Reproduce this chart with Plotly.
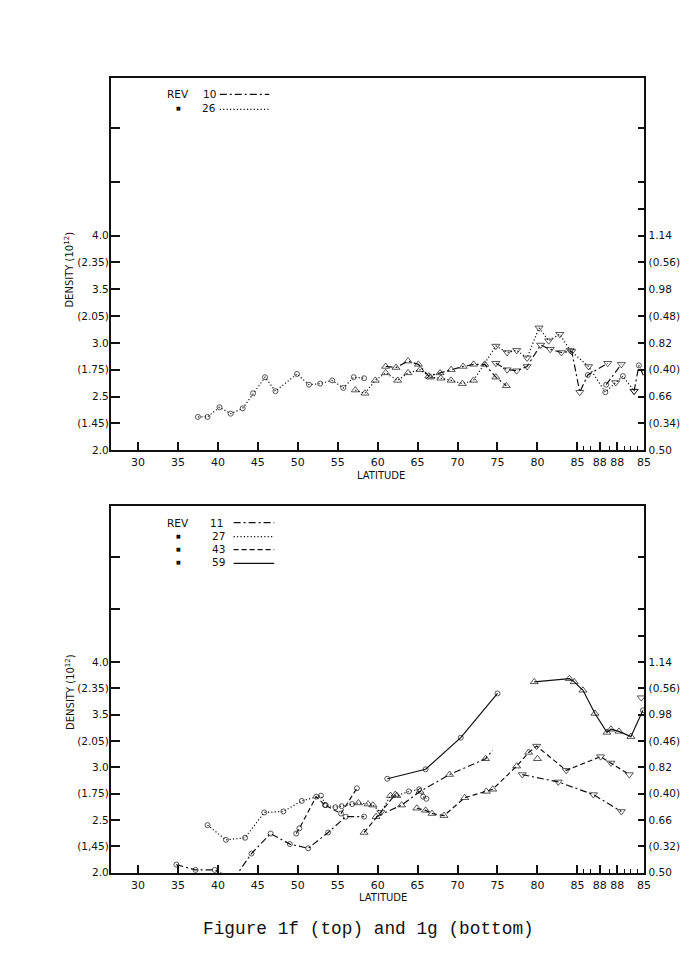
import plotly.graph_objects as go

W, H = 699, 962

# ---------------- DATA : Figure 1f (top) ----------------
# marker codes: o = open circle, u = triangle up, d = triangle down, . = no marker, None = gap
r26_lat = [37.5, 38.7, 40.2, 41.6, 43.1, 44.4, 45.9, 47.2, 49.9, 51.4, 52.8, 54.3, 55.7, 57.0, 58.3, None,
           57.2, 58.4, 59.7, 61.0, 62.5, 63.8, 65.3, 66.6, 67.9, 69.2, 70.6, 72.0,
           74.8, 76.2, 77.4, 78.7, 80.2, 81.4, 82.8, 84.1, 86.4, 88.5, 89.8, 90.7, 92.1]
r26_val = [2.31, 2.31, 2.40, 2.34, 2.39, 2.53, 2.68, 2.55, 2.71, 2.61, 2.62, 2.65, 2.58, 2.68, 2.67, None,
           2.56, 2.53, 2.65, 2.72, 2.65, 2.72, 2.75, 2.68, 2.67, 2.65, 2.62, 2.65,
           2.97, 2.91, 2.93, 2.86, 3.14, 3.02, 3.08, 2.93, 2.78, 2.54, 2.63, 2.69, 2.55]
r26_mk = list("ooooooooooooooo") + [None] + list("uuuuuuuuuuuu") + list("ddddddddd") + list("odod")

r10_lat = [61.0, 62.3, 63.8, 65.1, 66.4, 67.8, 69.2, 70.7, 72.0, 73.4, 74.8, 76.1, None,
           74.8, 76.2, 77.4, 78.7, 80.4, 81.6, 83.0, 84.3, 85.3, 86.3, 88.8, None,
           88.6, 90.5, None,
           92.1, 92.7, 93.3]
r10_val = [2.78, 2.77, 2.83, 2.80, 2.69, 2.72, 2.75, 2.78, 2.80, 2.80, 2.68, 2.60, None,
           2.81, 2.75, 2.74, 2.78, 2.98, 2.94, 2.91, 2.92, 2.54, 2.70, 2.81, None,
           2.61, 2.80, None,
           2.55, 2.79, 2.69]
r10_mk = list("uuuuuuuuuuuu") + [None] + list("dddddddddod") + [None] + list("od") + [None] + list("do.")

# ---------------- DATA : Figure 1g (bottom) ----------------
r11_lat = [34.8, 37.2, 39.6, 42.0, 44.2, 46.6, 49.0, 51.3, 53.8, 56.0, 58.3, None,
           59.8, 63.0, 65.3, 69.0, 73.5, 74.4, None,
           78.1, 82.6, 87.0, 90.5]
r11_val = [2.075, 2.025, 2.025, 1.94, 2.18, 2.37, 2.27, 2.23, 2.38, 2.53, 2.53, None,
           2.53, 2.64, 2.77, 2.93, 3.08, 3.16, None,
           2.93, 2.86, 2.74, 2.58]
r11_mk = list("ooooooooooo") + [None] + list("uuuuu.") + [None] + list("dddd")

r27_lat = [38.7, 41.0, 43.4, 45.8, 48.2, 50.5, 52.9, 53.5, 54.7, 55.5, 56.8,
           57.6, 58.8, 59.4, 60.4, 61.6, 62.4, 63.9, 65.2, 65.7, 66.1]
r27_val = [2.45, 2.31, 2.33, 2.57, 2.58, 2.68, 2.73, 2.64, 2.62, 2.63, 2.65,
           2.66, 2.65, 2.64, 2.57, 2.73, 2.73, 2.77, 2.79, 2.72, 2.70]
r27_mk = list("ooooooooooo") + list("uuuduuoooo")

r43_lat = [49.8, 50.2, 52.3, 53.4, 55.4, 57.4, None,
           58.3, 62.2, None,
           64.9, 66.0, 66.8, 68.3, 70.9, 73.6, 74.4, 77.4, 78.9, 79.9, 83.6, 87.9, 89.2, 91.5, None,
           80.0]
r43_val = [2.37, 2.42, 2.72, 2.64, 2.56, 2.80, None,
           2.38, 2.74, None,
           2.61, 2.59, 2.56, 2.54, 2.71, 2.77, 2.79, 3.01, 3.14, 3.20, 2.97, 3.10, 3.04, 2.93, None,
           3.08]
r43_mk = list("oooooo") + [None] + list("uu") + [None] + list("uuuuuuuuuddddd") + [None] + list("u")

r59_lat = [61.2, 66.0, 70.4, 75.0, None,
           79.6, 84.0, 84.6, 85.7, 87.2, 88.7, 89.2, 90.2, 91.7, 93.2, None,
           93.0]
r59_val = [2.89, 2.98, 3.28, 3.70, None,
           3.81, 3.84, 3.81, 3.73, 3.51, 3.33, 3.36, 3.34, 3.29, 3.54, None,
           3.66]
r59_mk = list("oooo") + [None] + list("uuuuuuuuuo") + [None] + list("d")

# ---------------- AXIS TEXT ----------------
x_major = [30, 35, 40, 45, 50, 55, 60, 65, 70, 75, 80, 85, 87.8, 90.0, 93.35]
x_major_text = ["30", "35", "40", "45", "50", "55", "60", "65", "70", "75", "80", "85", "88", "88", "85"]
x_minor = [85.8, 86.6, 89.0, 90.9, 91.7, 92.5]

y_ticks = [2.0, 2.25, 2.5, 2.75, 3.0, 3.25, 3.5, 3.75, 4.0, 4.5, 5.0]
y_left_top = ["2.0", "(1.45)", "2.5", "(1.75)", "3.0", "(2.05)", "3.5", "(2.35)", "4.0", "", ""]
y_left_bot = ["2.0", "(1,45)", "2.5", "(1.75)", "3.0", "(2.05)", "3.5", "(2.35)", "4.0", "", ""]
y_right_ticks = [2.0, 2.25, 2.5, 2.75, 3.0, 3.25, 3.5, 3.75, 4.0, 4.25, 4.5, 5.0]
y_right_top = ["0.50", "(0.34)", "0.66", "(0.40)", "0.82", "(0.48)", "0.98", "(0.56)", "1.14", "", "", ""]
y_right_bot = ["0.50", "(0.32)", "0.66", "(0.40)", "0.82", "(0.46)", "0.98", "(0.56)", "1.14", "", "", ""]

# ---------------- FIGURE ----------------
FONT = "DejaVu Sans"
SYM = {"o": "circle-open", "u": "triangle-up-open", "d": "triangle-down-open", ".": "circle"}
SIZE = {"o": 5, "u": 7, "d": 7, ".": 0}
DASH = {"dashdot": "7px,3px,2px,3px", "dot": "1.2px,2.2px", "dash": "5px,3px", "solid": "solid"}

fig = go.Figure()


def add_series(lat, val, mk, dash, xa, ya):
    syms = [SYM[m] if m else "circle" for m in mk]
    sizes = [SIZE[m] if m else 0 for m in mk]
    fig.add_trace(go.Scatter(
        x=lat, y=val, xaxis=xa, yaxis=ya, mode="lines+markers",
        line=dict(color="#111", width=1.2, dash=DASH[dash]),
        marker=dict(symbol=syms, size=sizes, color="#111", line=dict(width=1.0, color="#111")),
        cliponaxis=False, showlegend=False, hoverinfo="skip"))


add_series(r26_lat, r26_val, r26_mk, "dot", "x", "y")
add_series(r10_lat, r10_val, r10_mk, "dashdot", "x", "y")
add_series(r27_lat, r27_val, r27_mk, "dot", "x2", "y3")
add_series(r43_lat, r43_val, r43_mk, "dash", "x2", "y3")
add_series(r11_lat, r11_val, r11_mk, "dashdot", "x2", "y3")
add_series(r59_lat, r59_val, r59_mk, "solid", "x2", "y3")

# empty traces so the right-hand (second scale) axes get drawn
fig.add_trace(go.Scatter(x=[None], y=[None], xaxis="x", yaxis="y2", showlegend=False, hoverinfo="skip"))
fig.add_trace(go.Scatter(x=[None], y=[None], xaxis="x2", yaxis="y4", showlegend=False, hoverinfo="skip"))


def px(x):
    return x / W


def py(y):
    return 1 - y / H


XL, XR = 112, 651
TOP = (78, 453)
BOT = (509, 878)
tickfont = dict(family=FONT, size=11, color="#111")
ytickfont = dict(family=FONT, size=10.5, color="#111")
rtickfont = dict(family=FONT, size=10.5, color="#111")

xcommon = dict(range=[26.6, 93.4], domain=[px(XL), px(XR)], showline=True, linecolor="#111",
               linewidth=2, mirror=True, ticks="inside", ticklen=8, tickwidth=1.5, tickcolor="#111",
               tickmode="array", tickvals=x_major, ticktext=x_major_text, tickfont=tickfont,
               tickangle=0, ticklabelstandoff=1, showgrid=False, zeroline=False,
               minor=dict(tickmode="array", tickvals=x_minor, ticks="inside", ticklen=4,
                          tickwidth=1.2, tickcolor="#111", showgrid=False))

ycommon = dict(showline=True, linecolor="#111", linewidth=2, ticks="inside", tickwidth=1.5,
               tickcolor="#111", tickmode="array", showgrid=False, zeroline=False)

fig.update_layout(
    width=W, height=H, margin=dict(l=0, r=0, t=0, b=0),
    paper_bgcolor="white", plot_bgcolor="white",
    xaxis=dict(anchor="y", **xcommon),
    xaxis2=dict(anchor="y3", **xcommon),
    yaxis=dict(domain=[py(TOP[1]), py(TOP[0])], range=[2.0, 2 + (TOP[1] - TOP[0]) / 108],
               anchor="x", tickvals=y_ticks, ticktext=y_left_top, ticklen=9, tickfont=ytickfont,
               ticklabelstandoff=-2, **ycommon),
    yaxis2=dict(domain=[py(TOP[1]), py(TOP[0])], range=[2.0, 2 + (TOP[1] - TOP[0]) / 108],
                anchor="x", overlaying="y", side="right", tickvals=y_right_ticks,
                ticktext=y_right_top, ticklen=6, tickfont=rtickfont, **ycommon),
    yaxis3=dict(domain=[py(BOT[1]), py(BOT[0])], range=[2.0, 2 + (BOT[1] - BOT[0]) / 106],
                anchor="x2", tickvals=y_ticks, ticktext=y_left_bot, ticklen=9, tickfont=ytickfont,
                ticklabelstandoff=-2, **ycommon),
    yaxis4=dict(domain=[py(BOT[1]), py(BOT[0])], range=[2.0, 2 + (BOT[1] - BOT[0]) / 106],
                anchor="x2", overlaying="y3", side="right", tickvals=y_right_ticks,
                ticktext=y_right_bot, ticklen=6, tickfont=rtickfont, **ycommon),
)

ann = []
shapes = []


def text(x, y, s, size=10.5, family=FONT, angle=0, xanchor="center"):
    ann.append(dict(x=px(x), y=py(y), xref="paper", yref="paper", text=s, showarrow=False,
                    font=dict(family=family, size=size, color="#111"), textangle=angle,
                    xanchor=xanchor, yanchor="middle"))


def legend_line(x0, x1, y, dash):
    shapes.append(dict(type="line", xref="paper", yref="paper", x0=px(x0), x1=px(x1),
                       y0=py(y), y1=py(y), line=dict(color="#111", width=1.3, dash=DASH[dash])))


# y titles and x titles
text(70, 271, "DENSITY (10<sup>12</sup>)", size=10, angle=-90)
text(70, 696, "DENSITY (10<sup>12</sup>)", size=10, angle=-90)
text(385, 478, "LATITUDE", size=10)
text(387, 903, "LATITUDE", size=10)

# legends
text(167, 95, "REV", xanchor="left")
text(212, 95, "10")
legend_line(222, 272, 95, "dashdot")
text(180, 109, "■", size=5)
text(211, 109, "26")
legend_line(222, 273, 110, "dot")

text(167, 526, "REV", xanchor="left")
text(219, 526, "11")
legend_line(236, 277, 526, "dashdot")
rows = [("27", 539, "dot"), ("43", 552, "dash"), ("59", 566, "solid")]
for lab, yy, dsh in rows:
    text(180, yy, "■", size=5)
    text(221, yy, lab)
    legend_line(236, 277, yy + 1, dsh)

# caption
text(372.5, 935, "Figure 1f (top) and 1g (bottom)", size=17.8, family="Liberation Mono")

fig.update_layout(annotations=ann, shapes=shapes)
fig.write_html("out.html")
